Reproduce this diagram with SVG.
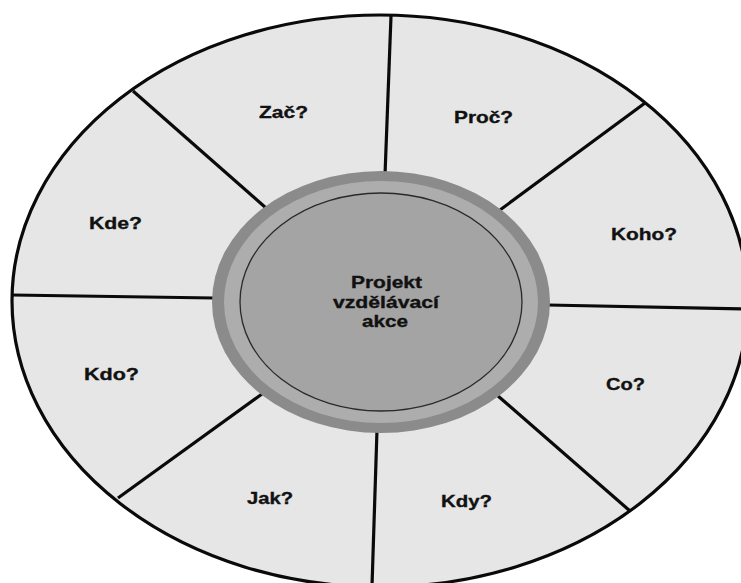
<svg xmlns="http://www.w3.org/2000/svg" width="741" height="583" viewBox="0 0 741 583">
<style>
.lbl{font-family:"Liberation Sans",Arial,sans-serif;font-weight:bold;font-size:17px;fill:#111;stroke:#111;stroke-width:0.35}
.spoke{stroke:#0a0a0a;stroke-width:3.2;stroke-linecap:butt}
</style>
<rect width="741" height="583" fill="#ffffff"/>
<g id="wheel">
<ellipse cx="380" cy="301" rx="368" ry="286" fill="#e6e6e6" stroke="none"/>
</g>
<g id="connectors">
<line class="spoke" x1="391" y1="16" x2="385" y2="175"/>
<line class="spoke" x1="133" y1="91" x2="266" y2="208"/>
<line class="spoke" x1="12" y1="295" x2="214" y2="298"/>
<line class="spoke" x1="118" y1="498" x2="262" y2="394"/>
<line class="spoke" x1="372" y1="586" x2="377" y2="430"/>
<line class="spoke" x1="630" y1="511" x2="498" y2="396"/>
<line class="spoke" x1="548" y1="305" x2="745" y2="309"/>
<line class="spoke" x1="645" y1="103" x2="500" y2="210"/>
</g>
<ellipse cx="380" cy="301" rx="368" ry="286" fill="none" stroke="#0a0a0a" stroke-width="3.2"/>
<g id="center">
<ellipse cx="381" cy="302" rx="169" ry="131" fill="#8b8b8b"/>
<ellipse cx="381" cy="302" rx="157" ry="121" fill="#adadad"/>
<ellipse cx="381" cy="302" rx="141" ry="109" fill="#a4a4a4" stroke="#2a2a2a" stroke-width="1.3"/>
<text class="lbl" x="351" y="288" textLength="71" lengthAdjust="spacingAndGlyphs">Projekt</text>
<text class="lbl" x="333" y="308" textLength="106" lengthAdjust="spacingAndGlyphs">vzdělávací</text>
<text class="lbl" x="362" y="327" textLength="46" lengthAdjust="spacingAndGlyphs">akce</text>
</g>
<g id="node-zac"><text class="lbl" x="259" y="118" textLength="49" lengthAdjust="spacingAndGlyphs">Zač?</text></g>
<g id="node-proc"><text class="lbl" x="454" y="123" textLength="59" lengthAdjust="spacingAndGlyphs">Proč?</text></g>
<g id="node-koho"><text class="lbl" x="611" y="240" textLength="66" lengthAdjust="spacingAndGlyphs">Koho?</text></g>
<g id="node-co"><text class="lbl" x="606" y="390" textLength="39" lengthAdjust="spacingAndGlyphs">Co?</text></g>
<g id="node-kdy"><text class="lbl" x="441" y="507" textLength="51" lengthAdjust="spacingAndGlyphs">Kdy?</text></g>
<g id="node-jak"><text class="lbl" x="247" y="504" textLength="46" lengthAdjust="spacingAndGlyphs">Jak?</text></g>
<g id="node-kdo"><text class="lbl" x="84" y="380" textLength="55" lengthAdjust="spacingAndGlyphs">Kdo?</text></g>
<g id="node-kde"><text class="lbl" x="89" y="229" textLength="53" lengthAdjust="spacingAndGlyphs">Kde?</text></g>
</svg>
